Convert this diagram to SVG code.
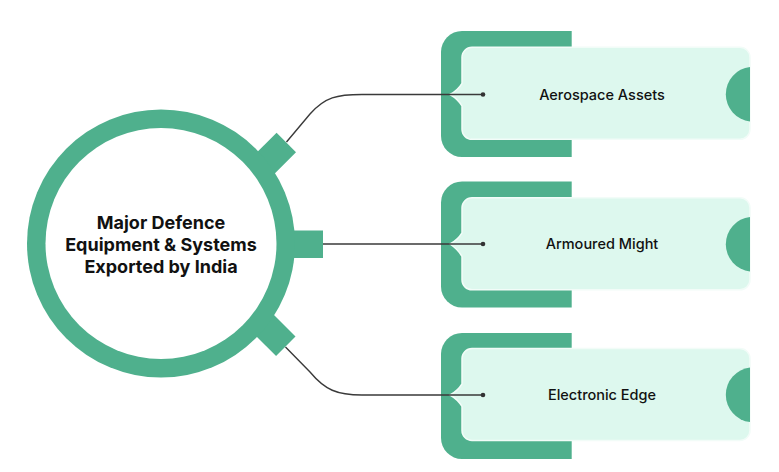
<svg xmlns="http://www.w3.org/2000/svg" width="779" height="472" viewBox="0 0 779 472">
<defs>
<style>
.g{fill:#4FB08D}
.lt{fill:#DDF8EE;stroke:#F2FCF8;stroke-width:1.5}
.ln{fill:none;stroke:#3a3a3a;stroke-width:1.4}
.dot{fill:#333}
.t{font-family:Inter,"Liberation Sans",sans-serif;font-size:14.5px;font-weight:500;fill:#111;text-anchor:middle}
.h{font-family:Inter,"Liberation Sans",sans-serif;font-size:18px;font-weight:700;fill:#111;text-anchor:middle}
</style>
</defs>
<rect width="779" height="472" fill="#fff"/>
<g id="center">
<rect class="g" x="-40" y="-13.75" width="40" height="27.5" transform="translate(286.3,142.5) rotate(-45)"/>
<rect class="g" x="-40" y="-13.75" width="40" height="27.5" transform="translate(285.8,346.3) rotate(45)"/>
<rect class="g" x="285" y="230.5" width="38" height="27.5"/>
<circle class="g" cx="161" cy="243.5" r="134"/>
<circle cx="161" cy="243.5" r="115.5" fill="#fff"/>
<text class="h" x="161" y="229">Major Defence</text>
<text class="h" x="161" y="251">Equipment &amp; Systems</text>
<text class="h" x="161" y="273">Exported by India</text>
</g>
<g id="aerospace">
<path class="g" d="M571.7,31 V157 H462 A21,21 0 0 1 441,136 V52 A21,21 0 0 1 462,31 Z"/>
<path class="lt" d="M472,47.3 H740 A10,10 0 0 1 750,57.3 V129.3 A10,10 0 0 1 740,139.3 H472 A10,10 0 0 1 462,129.3 V106 Q458,99 450,94.5 Q458,90 462,83.3 V57.3 A10,10 0 0 1 472,47.3 Z"/>
<path class="g" d="M750,66.9 A27.5,27.5 0 0 0 750,121.5 Z"/>
<text class="t" x="602" y="99.5">Aerospace Assets</text>
</g>
<g id="armoured">
<path class="g" d="M571.7,181.5 V307.5 H462 A21,21 0 0 1 441,286.5 V202.5 A21,21 0 0 1 462,181.5 Z"/>
<path class="lt" d="M472,197.8 H740 A10,10 0 0 1 750,207.8 V279.8 A10,10 0 0 1 740,289.8 H472 A10,10 0 0 1 462,279.8 V256.5 Q458,249.5 450,244 Q458,239.5 462,232.8 V207.8 A10,10 0 0 1 472,197.8 Z"/>
<path class="g" d="M750,216.9 A27.5,27.5 0 0 0 750,271.5 Z"/>
<text class="t" x="602" y="249">Armoured Might</text>
</g>
<g id="electronic">
<path class="g" d="M571.7,333 V459 H462 A21,21 0 0 1 441,438 V354 A21,21 0 0 1 462,333 Z"/>
<path class="lt" d="M472,348.5 H740 A10,10 0 0 1 750,358.5 V430.5 A10,10 0 0 1 740,440.5 H472 A10,10 0 0 1 462,430.5 V406.5 Q458,399.5 450,395 Q458,390.5 462,383.8 V358.5 A10,10 0 0 1 472,348.5 Z"/>
<path class="g" d="M750,367.5 A27.5,27.5 0 0 0 750,422.1 Z"/>
<text class="t" x="602" y="400">Electronic Edge</text>
</g>
<g id="connectors">
<path class="ln" d="M286.5,142 L310,114 C325,97 337,94.5 362,94.5 H483"/>
<path class="ln" d="M323,244 H483"/>
<path class="ln" d="M285.5,347 L310,372 C325,390 337,395 362,395 H483"/>
<circle class="dot" cx="483" cy="94.5" r="2.3"/>
<circle class="dot" cx="483" cy="244" r="2.3"/>
<circle class="dot" cx="483" cy="395" r="2.3"/>
</g>
</svg>
